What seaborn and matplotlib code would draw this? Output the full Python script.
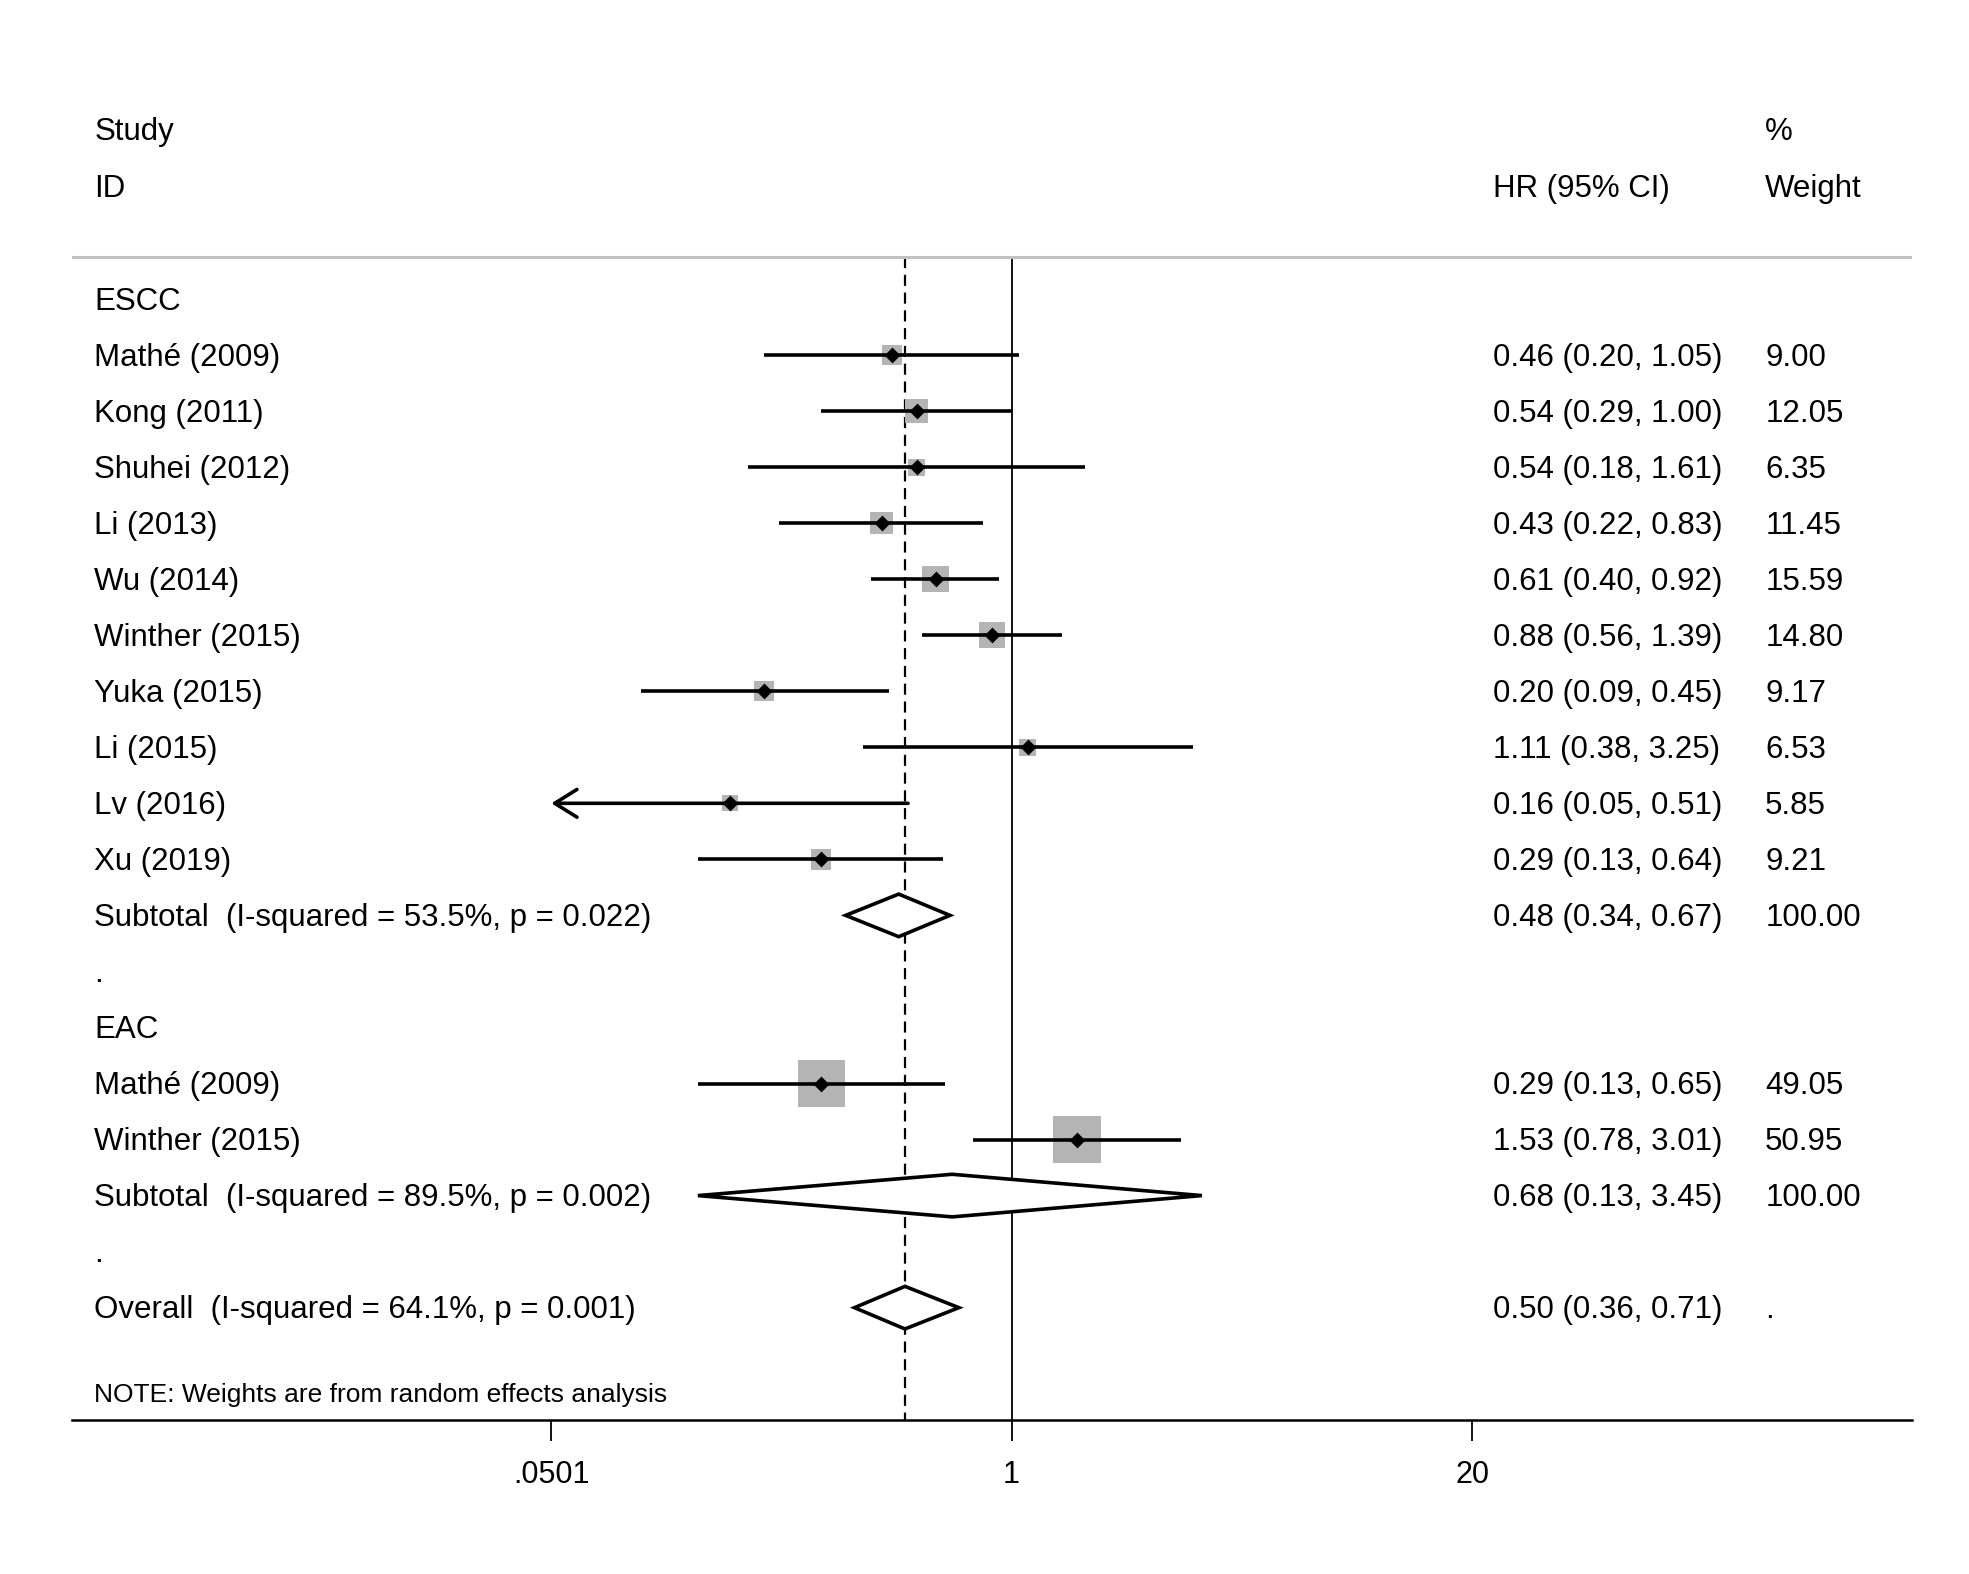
import numpy as np
import pandas as pd
import seaborn as sns
import matplotlib.pyplot as plt
import matplotlib.transforms as mtransforms
from matplotlib.patches import Polygon

# ESCC subgroup
escc_studies = ["Mathé (2009)", "Kong (2011)", "Shuhei (2012)", "Li (2013)", "Wu (2014)",
                "Winther (2015)", "Yuka (2015)", "Li (2015)", "Lv (2016)", "Xu (2019)"]
escc_hr = [0.46, 0.54, 0.54, 0.43, 0.61, 0.88, 0.20, 1.11, 0.16, 0.29]
escc_lo = [0.20, 0.29, 0.18, 0.22, 0.40, 0.56, 0.09, 0.38, 0.05, 0.13]
escc_hi = [1.05, 1.00, 1.61, 0.83, 0.92, 1.39, 0.45, 3.25, 0.51, 0.64]
escc_weight = [9.00, 12.05, 6.35, 11.45, 15.59, 14.80, 9.17, 6.53, 5.85, 9.21]

# EAC subgroup
eac_studies = ["Mathé (2009)", "Winther (2015)"]
eac_hr = [0.29, 1.53]
eac_lo = [0.13, 0.78]
eac_hi = [0.65, 3.01]
eac_weight = [49.05, 50.95]

group_names = ["ESCC", "EAC"]
subtotal_labels = ["Subtotal  (I-squared = 53.5%, p = 0.022)",
                   "Subtotal  (I-squared = 89.5%, p = 0.002)"]
subtotal_hr = [0.48, 0.68]
subtotal_lo = [0.34, 0.13]
subtotal_hi = [0.67, 3.45]

overall_label = "Overall  (I-squared = 64.1%, p = 0.001)"
overall_hr = 0.50
overall_lo = 0.36
overall_hi = 0.71

x_ticks = [0.0501, 1, 20]
x_ticklabels = [".0501", "1", "20"]
note = "NOTE: Weights are from random effects analysis"

# build row table
groups = [(escc_studies, escc_hr, escc_lo, escc_hi, escc_weight),
          (eac_studies, eac_hr, eac_lo, eac_hi, eac_weight)]
study_rows = []
header_rows = []
sub_rows = []
dot_rows = []
r = 0
for gi, (names, hr, lo, hi, w) in enumerate(groups):
    header_rows.append(r)
    r += 1
    for n, h, l, u, ww in zip(names, hr, lo, hi, w):
        study_rows.append(dict(study=n, hr=h, lo=l, hi=u, weight=ww, row=r))
        r += 1
    sub_rows.append(r)
    r += 1
    dot_rows.append(r)
    r += 1
overall_row = r
df = pd.DataFrame(study_rows)

sns.set_theme(style="white")
plt.rcParams['font.family'] = ['Liberation Sans', 'DejaVu Sans']

fig = plt.figure(figsize=(19.69, 15.74), dpi=100)
ax = fig.add_axes([0.03636, 0.0980, 0.9349, 0.8723])
ax.set_xscale('log')
ax.set_xlim(0.00221, 351)
ax.set_ylim(20, -4.5)

line_top = -0.74
fs = 22.5

# weight boxes
sns.scatterplot(data=df, x='hr', y='row', size='weight',
                sizes=(23.3 * df.weight.min(), 23.3 * df.weight.max()),
                marker='s', color='#b4b4b4', linewidth=0, legend=False,
                ax=ax, zorder=2)

# confidence intervals
for _, d in df.iterrows():
    if d.lo < x_ticks[0]:
        ax.annotate("", xy=(x_ticks[0], d.row), xytext=(d.hi, d.row),
                    arrowprops=dict(arrowstyle="->,head_length=0.8,head_width=0.5",
                                    lw=2.6, color='black', shrinkA=0, shrinkB=0,
                                    mutation_scale=20), zorder=3)
    else:
        ax.hlines(d.row, d.lo, d.hi, color='black', lw=2.6, zorder=3)

sns.scatterplot(data=df, x='hr', y='row', marker='D', s=65, color='black',
                linewidth=0, legend=False, ax=ax, zorder=4)

# diamonds
def diamond(est, lo, hi, row, h=0.38):
    pts = [(lo, row), (est, row - h), (hi, row), (est, row + h)]
    ax.add_patch(Polygon(pts, closed=True, facecolor='white', edgecolor='black',
                         lw=2.6, zorder=4))

for est, lo, hi, row in zip(subtotal_hr, subtotal_lo, subtotal_hi, sub_rows):
    diamond(est, lo, hi, row)
diamond(overall_hr, overall_lo, overall_hi, overall_row)

# reference lines
ax.vlines(1, line_top, 20, color='black', lw=1.3, zorder=1)
ax.vlines(overall_hr, line_top, 20, color='black', lw=1.6,
          linestyles=(0, (5, 3)), zorder=1)
ax.axhline(line_top, color='#c0c0c0', lw=2.2, zorder=1)

# text columns (small downward nudge so caps sit centred on the rows)
trans = mtransforms.blended_transform_factory(ax.transAxes, ax.transData)
x_lab, x_hr, x_w = 0.0123, 0.772, 0.920
dy = 0.05

def txt(x, y, s, size=fs):
    ax.text(x, y + dy, s, transform=trans, ha='left', va='center', fontsize=size,
            color='black')

txt(x_lab, -3.03, "Study")
txt(x_lab, -2.02, "ID")
txt(x_hr, -2.02, "HR (95% CI)")
txt(x_w, -3.03, "%")
txt(x_w, -2.02, "Weight")

for gname, row in zip(group_names, header_rows):
    txt(x_lab, row, gname)
for _, d in df.iterrows():
    txt(x_lab, d.row, d.study)
    txt(x_hr, d.row, f"{d.hr:.2f} ({d.lo:.2f}, {d.hi:.2f})")
    txt(x_w, d.row, f"{d.weight:.2f}")
for lab, est, lo, hi, row in zip(subtotal_labels, subtotal_hr, subtotal_lo,
                                 subtotal_hi, sub_rows):
    txt(x_lab, row, lab)
    txt(x_hr, row, f"{est:.2f} ({lo:.2f}, {hi:.2f})")
    txt(x_w, row, "100.00")
for row in dot_rows:
    txt(x_lab, row, ".")
txt(x_lab, overall_row, overall_label)
txt(x_hr, overall_row, f"{overall_hr:.2f} ({overall_lo:.2f}, {overall_hi:.2f})")
txt(x_w, overall_row, ".")
txt(x_lab, overall_row + 1.5, note, size=19)

# axis styling
for side in ['top', 'left', 'right']:
    ax.spines[side].set_visible(False)
ax.spines['bottom'].set_color('black')
ax.spines['bottom'].set_linewidth(1.8)
ax.set_xticks(x_ticks, x_ticklabels)
ax.xaxis.set_minor_locator(plt.NullLocator())
ax.tick_params(axis='x', direction='out', length=15, width=1.3, labelsize=22,
               pad=14, colors='black', bottom=True)
ax.set_yticks([])
ax.set_xlabel('')
ax.set_ylabel('')

fig.savefig('out.png', dpi=100, facecolor='white')
